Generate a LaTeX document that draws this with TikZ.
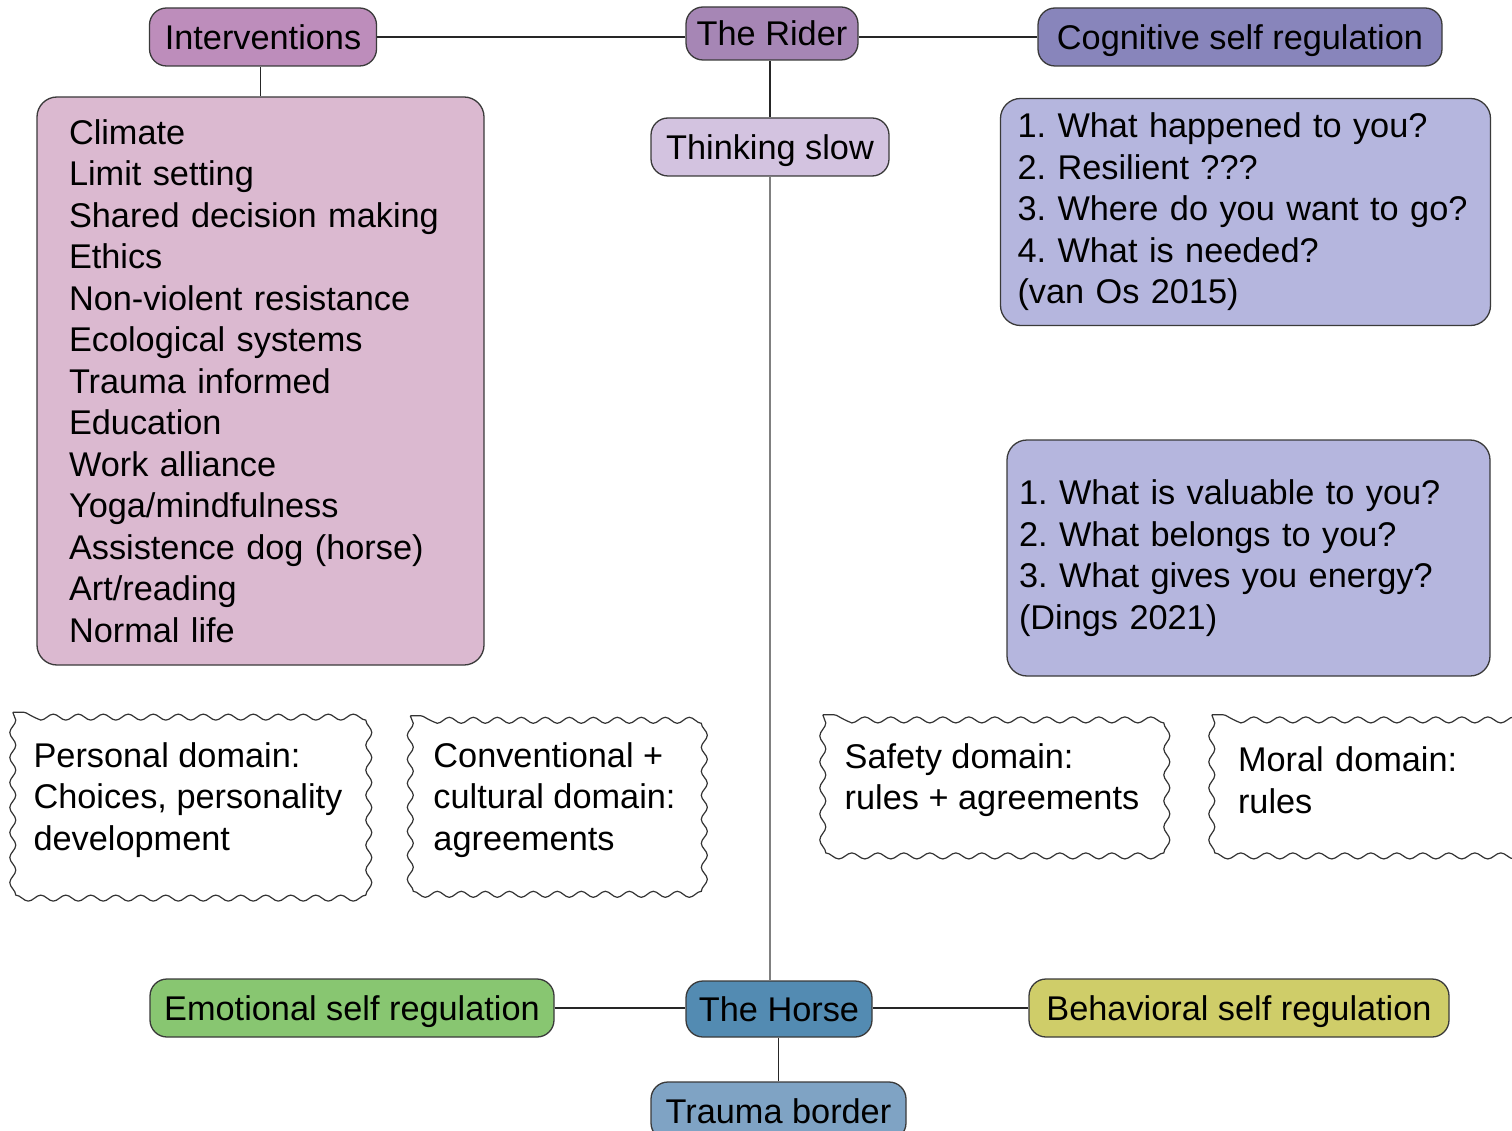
\documentclass[tikz,border=0pt]{standalone}
\usepackage{fontspec}
\setmainfont{Liberation Sans}
\usetikzlibrary{decorations.pathmorphing}
\frenchspacing

\definecolor{edgegray}{HTML}{3A3A3A}
\definecolor{intvpink}{HTML}{BD8DBB}
\definecolor{riderpurple}{HTML}{A686B5}
\definecolor{cogblue}{HTML}{8885BB}
\definecolor{slowlilac}{HTML}{D3C3E0}
\definecolor{listpink}{HTML}{DBB9D0}
\definecolor{questblue}{HTML}{B5B6DE}
\definecolor{emogreen}{HTML}{88C671}
\definecolor{horseblue}{HTML}{538BB2}
\definecolor{behavyellow}{HTML}{CFCD69}
\definecolor{traumablue}{HTML}{7FA3C4}

\begin{document}
\begin{tikzpicture}[x=1pt,y=-1pt,
    font=\fontsize{34.3}{41.5}\selectfont,
    hub/.style={draw=edgegray, line width=1.3pt, rounded corners=17pt, inner sep=0pt,
        text height=25pt, text depth=0pt},
    infobox/.style={draw=edgegray, line width=1.3pt, rounded corners=20pt, align=left, inner ysep=0pt},
    cloudbox/.style={align=left, inner sep=0pt},
    wavy/.style={draw=black!80, line width=1.2pt,
        decorate, decoration={snake, segment length=#1, amplitude=3pt}},
    link/.style={draw=black!85, line width=1.3pt}]
    \useasboundingbox (0,0) rectangle (1512,1131);
    \clip (0,0) rectangle (1512,1131);

    % top row
    \node[hub, fill=intvpink, minimum width=227pt, minimum height=58pt] (interv) at (263,37) {Interventions};
    \node[hub, fill=riderpurple, minimum width=172pt, minimum height=53pt] (rider) at (772,33.5) {The Rider};
    \node[hub, fill=cogblue, minimum width=404pt, minimum height=58pt] (cog) at (1240,37) {Cognitive self regulation};
    \node[hub, fill=slowlilac, minimum width=238pt, minimum height=58pt] (slow) at (770,147) {Thinking slow};

    % boxes under the rider
    \node[infobox, fill=listpink, text width=383pt, inner xsep=32pt, minimum height=568pt] (list) at (260.5,381)
        {Climate\\Limit setting\\Shared decision making\\Ethics\\Non-violent resistance\\Ecological systems\\Trauma informed\\Education\\Work alliance\\Yoga/mindfulness\\Assistence dog (horse)\\Art/reading\\Normal life};
    \node[infobox, fill=questblue, text width=456pt, inner xsep=17pt, minimum height=227pt] (happened) at (1245.5,212)
        {1. What happened to you?\\2. Resilient ???\\3. Where do you want to go?\\4. What is needed?\\(van Os 2015)};
    \node[infobox, fill=questblue, text width=459pt, inner xsep=12pt, minimum height=236pt] (valuable) at (1248.5,558)
        {1. What is valuable to you?\\2. What belongs to you?\\3. What gives you energy?\\(Dings 2021)};

    % domains
    \node[cloudbox, minimum width=350pt, minimum height=175pt] (personal) at (188,800)
        {Personal domain:\\Choices, personality\\development};
    \node[cloudbox, minimum width=288pt, minimum height=168pt] (conventional) at (554.5,800)
        {Conventional +\\cultural domain:\\agreements};
    \node[cloudbox, minimum width=338pt, minimum height=130pt] (safety) at (992,780)
        {Safety domain:\\rules + agreements};
    \node[cloudbox, text width=260pt, inner xsep=26pt, minimum height=130pt] (moral) at (1368,780)
        {Moral domain:\\rules};
    \foreach \dom/\seg in {personal/25pt,conventional/24pt,safety/26pt,moral/26pt}
        \draw[wavy=\seg] (\dom.north west) rectangle (\dom.south east);

    % bottom row
    \node[hub, fill=emogreen, minimum width=404pt, minimum height=58pt] (emo) at (352,1008) {Emotional self regulation};
    \node[hub, fill=horseblue, minimum width=186pt, minimum height=56pt] (horse) at (779,1009) {The Horse};
    \node[hub, fill=behavyellow, minimum width=420pt, minimum height=58pt] (behav) at (1239,1008) {Behavioral self regulation};
    \node[hub, fill=traumablue, minimum width=255pt, minimum height=58pt] (trauma) at (778.5,1111) {Trauma border};

    % connectors
    \draw[link] (interv.east) -- (interv.east -| rider.west);
    \draw[link] (cog.west -| rider.east) -- (cog.west);
    \draw[link] (list.north) -- (list.north |- interv.south);
    \draw[link] (slow.north) -- (slow.north |- rider.south);
    \draw[link, draw=gray] (slow.south) -- (slow.south |- horse.north);
    \draw[link] (emo.east) -- (emo.east -| horse.west);
    \draw[link] (behav.west) -- (behav.west -| horse.east);
    \draw[link] (trauma.north) -- (trauma.north |- horse.south);
\end{tikzpicture}
\end{document}
